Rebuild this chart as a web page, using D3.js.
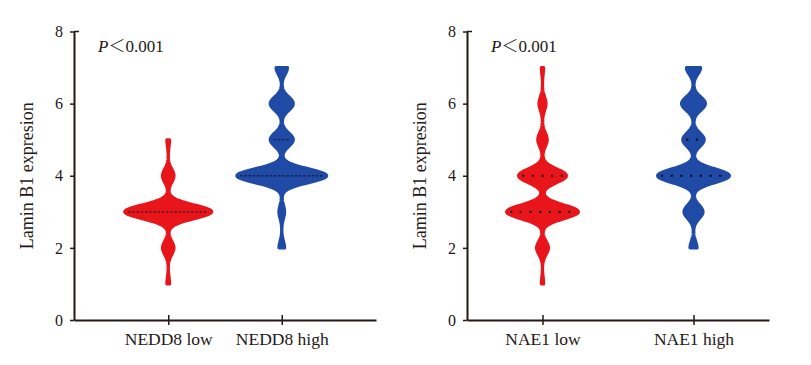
<!DOCTYPE html>
<html>
<head>
<meta charset="utf-8">
<script src="https://cdn.jsdelivr.net/npm/d3@7"></script>
<style>
  body { margin: 0; background: #fff; }
  text { font-family: "Liberation Serif", "Times New Roman", serif; fill: #231815; }
</style>
</head>
<body>
<svg id="chart" width="811" height="365"></svg>
<script>
var levels = [1, 2, 3, 4, 5, 6, 7];
var groupsLeft = ["NEDD8 low", "NEDD8 high"];
var groupsRight = ["NAE1 low", "NAE1 high"];
// number of cases scored at each level
var neddLow = [1, 4, 30, 4, 1, 0, 0];
var neddHigh = [0, 2, 2, 31, 8, 8, 4];
var naeLow = [1, 5, 30, 20, 4, 3, 1];
var naeHigh = [0, 3, 8, 30, 9, 10, 6];
var yTicks = [0, 2, 4, 6, 8];
var yLabel = "Lamin B1 expresion";
var pValue = "0.001";
var colors = ["#e8161b", "#1f4aa5"];

var ink = "#231815";
var svg = d3.select("#chart");

var y = d3.scaleLinear().domain([0, 8]).range([320, 31.5]);

var panels = [
  { x0: 74, x1: 376, padding: 0.83, maxHalf: 45, groups: groupsLeft, counts: [neddLow, neddHigh],
    dash: "2.4,1.8", lineW: 1.3, lineColor: "#1b1b2a", labelX: 33 },
  { x0: 467, x1: 769, padding: 0.5, maxHalf: 36, groups: groupsRight, counts: [naeLow, naeHigh],
    dash: "2.2,7.5", lineW: 2.2, lineColor: "#000", labelX: 426 }
];

function density(counts, v) {
  var bw = 0.19;
  return d3.sum(levels, function(l, i) {
    return counts[i] * Math.exp(-0.5 * Math.pow((v - l) / bw, 2));
  });
}

function expand(counts) {
  var vals = [];
  levels.forEach(function(l, i) {
    for (var k = 0; k < counts[i]; k++) vals.push(l);
  });
  return vals;
}

panels.forEach(function(p) {
  var g = svg.append("g");
  var x = d3.scalePoint().domain(p.groups).range([p.x0, p.x1]).padding(p.padding);
  var allMax = d3.max(p.counts, function(c) { return d3.max(c); });
  var w = d3.scaleLinear().domain([0, allMax]).range([0, p.maxHalf]);

  p.counts.forEach(function(counts, gi) {
    var cx = x(p.groups[gi]);
    var vals = expand(counts);
    var lo = d3.min(vals), hi = d3.max(vals);
    var pts = d3.range(lo, hi + 0.0001, 0.02).map(function(v) {
      return { v: Math.min(v, hi), d: density(counts, Math.min(v, hi)) };
    });
    var area = d3.area()
      .y(function(d) { return y(d.v); })
      .x0(function(d) { return cx - w(d.d); })
      .x1(function(d) { return cx + w(d.d); });
    g.append("path")
      .attr("d", area(pts))
      .attr("fill", colors[gi])
      .attr("stroke", colors[gi])
      .attr("stroke-width", 3)
      .attr("stroke-linejoin", "round");

    // median and quartile lines
    var qs = [d3.quantile(vals, 0.25), d3.quantile(vals, 0.5), d3.quantile(vals, 0.75)];
    qs = qs.filter(function(q, i) { return qs.indexOf(q) == i; });
    qs.forEach(function(q) {
      var half = w(density(counts, q)) + 1.5 - 5;
      g.append("line")
        .attr("x1", cx - half)
        .attr("x2", cx + half)
        .attr("y1", y(q))
        .attr("y2", y(q))
        .attr("stroke", p.lineColor)
        .attr("stroke-width", p.lineW)
        .attr("stroke-dasharray", p.dash)
        .attr("opacity", 0.85);
    });
  });

  // y axis
  var ya = g.append("g")
    .attr("transform", "translate(" + p.x0 + ",0)")
    .call(d3.axisLeft(y).tickValues(yTicks).tickSize(4).tickSizeOuter(0).tickPadding(7));
  ya.select(".domain").attr("stroke", ink).attr("stroke-width", 2);
  ya.selectAll(".tick line").attr("stroke", ink).attr("stroke-width", 1.5);
  ya.selectAll(".tick text").style("font-size", "16px").attr("fill", ink);
  ya.append("line")
    .attr("x1", 0).attr("x2", 5)
    .attr("y1", y(8)).attr("y2", y(8))
    .attr("stroke", ink).attr("stroke-width", 1.5);

  // x axis
  var xa = g.append("g")
    .attr("transform", "translate(0," + y(0) + ")")
    .call(d3.axisBottom(x).tickSize(5).tickSizeOuter(0));
  xa.select(".domain").attr("stroke", ink).attr("stroke-width", 2);
  xa.selectAll(".tick line").attr("y1", -5).attr("stroke", ink).attr("stroke-width", 1.5);
  xa.selectAll(".tick text")
    .attr("y", 13)
    .style("font-size", "17.5px")
    .attr("fill", ink);

  g.append("text")
    .attr("transform", "translate(" + p.labelX + "," + (y(0) + y(8)) / 2 + ") rotate(-90)")
    .attr("text-anchor", "middle")
    .style("font-size", "18px")
    .text(yLabel);

  var pt = g.append("text")
    .attr("x", p.x0 + 24)
    .attr("y", 52)
    .style("font-size", "17px");
  pt.append("tspan").style("font-style", "italic").text("P");
  pt.append("tspan").style("font-family", "'Noto Sans CJK SC'").style("font-weight", 300).text("＜");
  pt.append("tspan").text(pValue);
});
</script>
</body>
</html>
